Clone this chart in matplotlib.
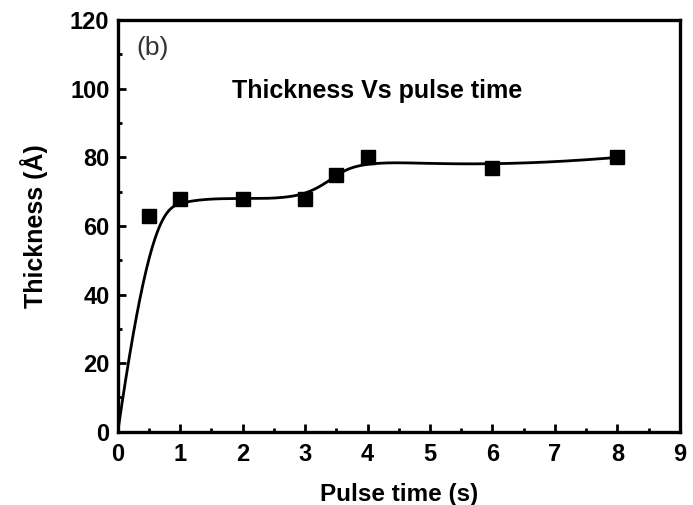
import numpy as np
import matplotlib.pyplot as plt
from matplotlib.ticker import MultipleLocator

# Data
pulse_time = [0, 0.5, 1, 2, 3, 3.5, 4, 6, 8]
thickness = [0, 63, 68, 68, 68, 75, 80, 77, 80]


def bspline(px, py, n=400):
    # clamped uniform cubic B-spline through the control points (Origin style)
    p = np.column_stack([px, py]).astype(float)
    k = 3
    m = len(p)
    knots = np.concatenate([np.zeros(k), np.linspace(0, 1, m - k + 1), np.ones(k)])
    t = np.linspace(0, 1, n)
    t[-1] -= 1e-10

    def basis(i, d, u):
        if d == 0:
            return ((knots[i] <= u) & (u < knots[i + 1])).astype(float)
        a = 0.0
        if knots[i + d] != knots[i]:
            a = (u - knots[i]) / (knots[i + d] - knots[i]) * basis(i, d - 1, u)
        b = 0.0
        if knots[i + d + 1] != knots[i + 1]:
            b = (knots[i + d + 1] - u) / (knots[i + d + 1] - knots[i + 1]) * basis(i + 1, d - 1, u)
        return a + b

    B = np.array([basis(i, k, t) for i in range(m)])
    out = B.T @ p
    return out[:, 0], out[:, 1]


plt.rcParams['font.family'] = ['Liberation Sans', 'DejaVu Sans']

fig = plt.figure(figsize=(6.93, 5.05), dpi=100)
ax = fig.add_axes([0.170, 0.145, 0.811, 0.815])

sx, sy = bspline(pulse_time, thickness)
ax.plot(sx, sy, 'k-', lw=2.0)
ax.plot(pulse_time[1:], thickness[1:], 'ks', ms=10.5)

ax.set_xlim(0, 9)
ax.set_ylim(0, 120)
ax.xaxis.set_major_locator(MultipleLocator(1))
ax.xaxis.set_minor_locator(MultipleLocator(0.5))
ax.yaxis.set_major_locator(MultipleLocator(20))
ax.yaxis.set_minor_locator(MultipleLocator(10))
ax.tick_params(which='both', direction='in', top=False, right=False, width=2)
ax.tick_params(which='major', length=6, labelsize=17)
ax.tick_params(axis='x', which='major', pad=8)
ax.tick_params(axis='y', which='major', pad=6)
ax.tick_params(which='minor', length=3)
for lab in ax.get_xticklabels() + ax.get_yticklabels():
    lab.set_fontweight('bold')
for s in ax.spines.values():
    s.set_linewidth(2.4)

ax.set_xlabel('Pulse time (s)', fontsize=17.5, fontweight='bold', labelpad=12)
ax.set_ylabel('Thickness (Å)', fontsize=18, fontweight='bold', labelpad=16)
ax.text(0.3, 115.5, '(b)', fontsize=19, va='top', color='#333333')
ax.text(4.16, 99.5, 'Thickness Vs pulse time', fontsize=18, fontweight='bold',
        ha='center', va='center')

fig.savefig('out.png', dpi=100)
